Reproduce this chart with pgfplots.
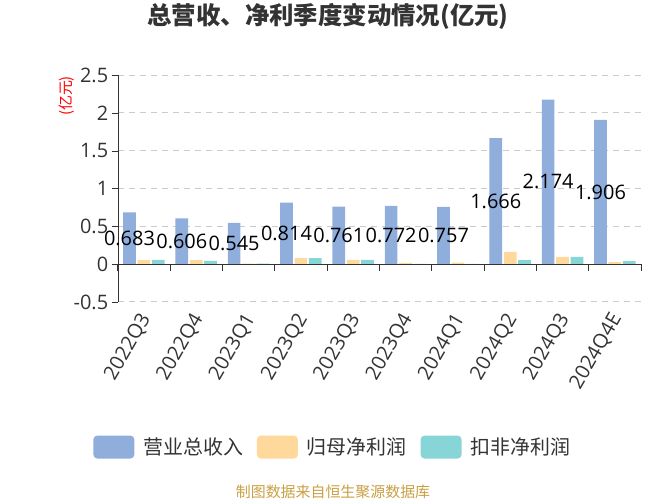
\documentclass[border=0pt]{standalone}
\usepackage{pgfplots}
\pgfplotsset{compat=1.18}
\usepackage{fontspec}
\setmainfont{Open Sans}
\newfontfamily\cjk{Noto Sans CJK SC}
\definecolor{cRev}{HTML}{8FAEDC}
\definecolor{cGm}{HTML}{FFD99B}
\definecolor{cKf}{HTML}{88D5D7}
\definecolor{txt}{HTML}{333333}
\definecolor{gridc}{HTML}{CCCCCC}
\definecolor{src}{HTML}{C9A043}

\pgfplotstableread{
x rev gm kf
0 0.683 0.057 0.057
1 0.606 0.053 0.045
2 0.545 0.008 0.008
3 0.814 0.080 0.080
4 0.761 0.058 0.058
5 0.772 0.018 0.004
6 0.757 0.022 0.003
7 1.666 0.164 0.053
8 2.174 0.097 0.097
9 1.906 0.027 0.040
}\data

\begin{document}
\begin{tikzpicture}
\useasboundingbox (0,0) rectangle (667bp,500bp);
\node[font=\cjk\bfseries\fontsize{24.5}{25}\selectfont, text=txt] at (328bp,484bp) {总营收、净利季度变动情况(亿元)};
\node[font=\cjk\fontsize{15}{15}\selectfont, text=red, rotate=90] at (67bp,404bp) {(亿元)};
\node[font=\cjk\fontsize{15}{15}\selectfont, text=src] at (333bp,8bp) {制图数据来自恒生聚源数据库};

\begin{axis}[
  at={(117.7bp,198bp)}, anchor=south west,
  scale only axis,
  width=523.3bp, height=227bp,
  xmin=-0.5, xmax=9.5,
  ymin=-0.5, ymax=2.5,
  axis x line*=bottom, axis y line*=left,
  x axis line style={draw=none},
  y axis line style={txt},
  xtick={0,...,9},
  xticklabels={2022Q3,2022Q4,2023Q1,2023Q2,2023Q3,2023Q4,2024Q1,2024Q2,2024Q3,2024Q4E},
  xtick style={draw=none},
  xticklabel style={xshift=4bp, yshift=-4.5bp, rotate=60, anchor=east, font=\fontsize{20}{20}\selectfont, text=txt},
  ytick={-0.5,0,0.5,1,1.5,2,2.5},
  yticklabels={-0.5,0,0.5,1,1.5,2,2.5},
  yticklabel style={font=\fontsize{20}{20}\selectfont, text=txt},
  tick align=outside,
  major tick length=6bp,
  ytick style={txt},
  ymajorgrids,
  grid style={gridc, dash pattern=on 6bp off 5bp, line width=1bp},
  ybar=1.7bp, bar width=12.7bp,
  clip=false,
  legend columns=3,
  legend style={at={(0.411,-0.639)}, anchor=center, draw=none, fill=none,
    font=\cjk\fontsize{20}{20}\selectfont, text=txt,
    /tikz/every odd column/.append style={column sep=7bp},
    /tikz/every even column/.append style={column sep=12bp}},
  legend image code/.code={\fill[#1, rounded corners=4bp] (0bp,-11.5bp) rectangle (41bp,11.5bp);},
]
\addplot[fill=cRev, draw=none,
  nodes near coords,
  visualization depends on={rawy \as \rawy},
  every node near coord/.append style={anchor=center, font=\fontsize{20}{20}\selectfont, text=black,
    /pgf/number format/fixed, /pgf/number format/fixed zerofill,
    /pgf/number format/precision=3, /pgf/number format/assume math mode=true,
    shift={(axis direction cs:0,-\rawy/2)}},
  ] table[x=x, y=rev] {\data};
\addlegendentry{营业总收入}
\addplot[fill=cGm, draw=none] table[x=x, y=gm] {\data};
\addlegendentry{归母净利润}
\addplot[fill=cKf, draw=none] table[x=x, y=kf] {\data};
\addlegendentry{扣非净利润}

\draw[txt, line width=1bp] (axis cs:-0.5,0) -- (axis cs:9.5,0);
\pgfplotsinvokeforeach{-0.5,0.5,1.5,2.5,3.5,4.5,5.5,6.5,7.5,8.5,9.5}{
  \draw[txt, line width=1bp] (axis cs:#1,0) -- ([yshift=-7bp]axis cs:#1,0);
}
\end{axis}
\end{tikzpicture}
\end{document}
